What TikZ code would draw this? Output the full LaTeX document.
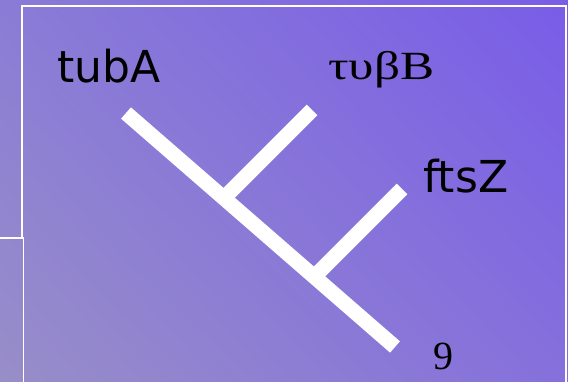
\documentclass[tikz,border=0pt]{standalone}
\usepackage{fontspec}
\usepackage{graphicx}
\usetikzlibrary{shadings}
\setmainfont{Liberation Serif}
\newfontfamily\labfont{DejaVu Sans}
\definecolor{bgUL}{RGB}{138,124,214}
\definecolor{bgUR}{RGB}{121,92,232}
\definecolor{bgLL}{RGB}{152,142,200}
\definecolor{bgLR}{RGB}{133,112,220}
\tikzset{
  branch/.style={draw=white, line width=15pt, line cap=butt},
  frameline/.style={draw=white, line width=1.5pt},
  genelab/.style={inner sep=0pt, anchor=base west, font=\labfont\fontsize{44}{50}\selectfont, text=black},
  seriflab/.style={inner sep=0pt, anchor=base west, text=black}
}
\begin{document}
\begin{tikzpicture}[x=1pt,y=-1pt]
\useasboundingbox (0,0) rectangle (568,382);
\shade[upper left=bgUL, upper right=bgUR, lower left=bgLL, lower right=bgLR] (0,0) rectangle (568,382);
% frame lines
\coordinate (f1) at (22,238);
\coordinate (f2) at (22,6);
\coordinate (f3) at (566,6);
\coordinate (f4) at (566,382);
\coordinate (g1) at (0,238);
\coordinate (g2) at (23.5,238);
\coordinate (g3) at (23.5,382);
\draw[frameline] (f1) -- (f2) -- (f3) -- (f4);
\draw[frameline] (g1) -- (g2) -- (g3);
% tree
\coordinate (root1) at (126,113);
\coordinate (root2) at (395,347);
\coordinate (j1) at (224,198);
\coordinate (t1) at (312,110);
\coordinate (j2) at (314,277);
\coordinate (t2) at (402,189);
\draw[branch] (root1) -- (root2);
\draw[branch] (j1) -- (t1);
\draw[branch] (j2) -- (t2);
% labels
\node[genelab] (tubA) at (57,83) {tubA};
\node[seriflab, font=\fontsize{40}{44}\selectfont] (tubB) at (328,80) {\scalebox{1.28}[1]{τυβB}};
\node[genelab] (ftsZ) at (423,193) {ftsZ};
\node[seriflab, font=\fontsize{40}{44}\selectfont] (nine) at (433,370) {9};
\end{tikzpicture}
\end{document}
